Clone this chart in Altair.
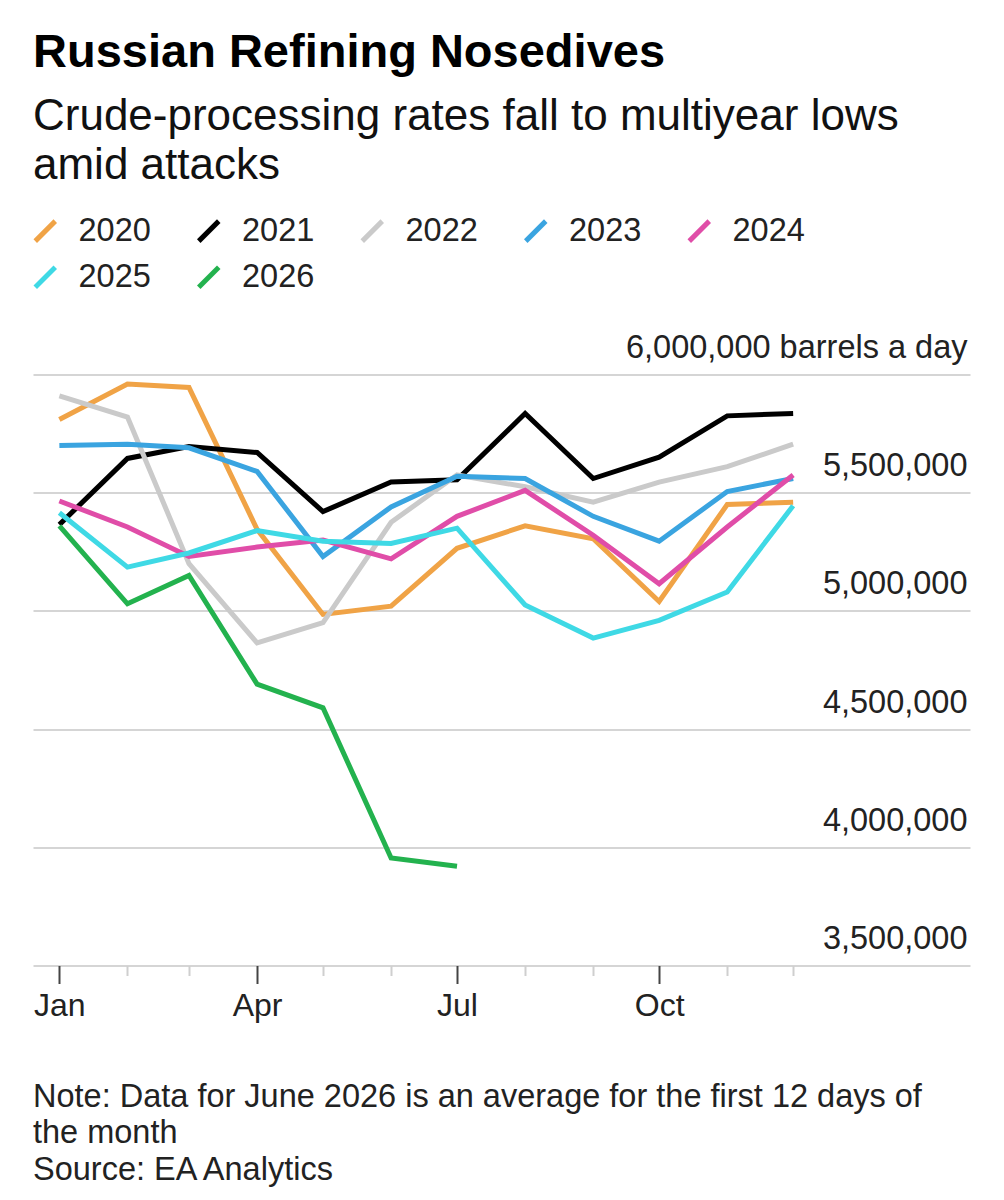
import altair as alt
import pandas as pd

# ---------------- data ----------------
MONTHS = ["Jan", "Feb", "Mar", "Apr", "May", "Jun", "Jul", "Aug", "Sep", "Oct", "Nov", "Dec"]
YEARS = ["2020", "2021", "2022", "2023", "2024", "2025", "2026"]
COLORS = ["#F0A346", "#000000", "#CACACA", "#3AA4E0", "#E04DA8", "#3FD9E5", "#23B24E"]

V2020 = [5810000, 5960000, 5945000, 5345000, 4985000, 5020000, 5265000, 5360000, 5305000, 5040000, 5450000, 5460000]
V2021 = [5365000, 5645000, 5695000, 5670000, 5420000, 5545000, 5555000, 5835000, 5560000, 5650000, 5825000, 5835000]
V2022 = [5910000, 5820000, 5200000, 4865000, 4950000, 5375000, 5575000, 5525000, 5460000, 5545000, 5610000, 5705000]
V2023 = [5700000, 5705000, 5690000, 5590000, 5230000, 5440000, 5570000, 5560000, 5400000, 5295000, 5505000, 5560000]
V2024 = [5465000, 5355000, 5230000, 5270000, 5300000, 5220000, 5400000, 5510000, 5320000, 5115000, 5355000, 5575000]
V2025 = [5415000, 5185000, 5245000, 5340000, 5295000, 5285000, 5350000, 5025000, 4885000, 4960000, 5080000, 5445000]
V2026 = [5360000, 5030000, 5150000, 4690000, 4590000, 3955000, 3920000]

SERIES = [V2020, V2021, V2022, V2023, V2024, V2025, V2026]

Y_TICKS = [3500000, 4000000, 4500000, 5000000, 5500000, 6000000]

TITLE = "Russian Refining Nosedives"
SUBTITLE = ["Crude-processing rates fall to multiyear lows", "amid attacks"]
NOTE_LINES = [
    "Note: Data for June 2026 is an average for the first 12 days of",
    "the month",
    "Source: EA Analytics",
]

FONT = "Liberation Sans"

rows = []
for yr, vals in zip(YEARS, SERIES):
    for i, v in enumerate(vals):
        rows.append({"year": yr, "date": f"2021-{i + 1:02d}-01", "month": MONTHS[i], "value": v})
df = pd.DataFrame(rows)

quarter_test = "utcmonth(datum.value) % 3 == 0"

x_axis = alt.Axis(
    values=[alt.DateTime(year=2021, month=m, date=1, utc=True) for m in range(1, 13)],
    labelExpr=f"{quarter_test} ? utcFormat(datum.value, '%b') : ''",
    domain=False,
    grid=False,
    tickColor={"condition": {"test": quarter_test, "value": "#444444"}, "value": "#cfcfcf"},
    tickSize={"condition": {"test": quarter_test, "value": 18}, "value": 10},
    tickWidth=2,
    labelFontSize=32,
    labelFont=FONT,
    labelColor="#222222",
    labelBaseline="alphabetic",
    labelPadding=31.5,
    labelOverlap=False,
    labelFlush=False,
)

y_axis = alt.Axis(
    orient="right",
    values=Y_TICKS,
    labelExpr="datum.value == 6000000 ? '6,000,000 barrels a day' : format(datum.value, ',')",
    domain=False,
    ticks=False,
    tickSize=0,
    grid=True,
    gridColor="#d5d5d5",
    gridWidth=2,
    labelAlign="right",
    labelBaseline="alphabetic",
    labelPadding=-3,
    labelOffset=-17,
    labelFontSize=32.5,
    labelFont=FONT,
    labelColor="#222222",
    labelLimit=600,
    labelOverlap=False,
    labelFlush=False,
)

legend = alt.Legend(
    title=None,
    orient="none",
    legendX=-4,
    legendY=-160,
    direction="horizontal",
    columns=5,
    symbolType="M-1,1L1,-1",
    symbolSize=400,
    symbolStrokeWidth=5,
    labelFontSize=32.5,
    labelFont=FONT,
    labelColor="#222222",
    labelOffset=17,
    columnPadding=37.5,
    rowPadding=5.5,
    padding=0,
)

lines = alt.Chart(df).mark_line(strokeWidth=5).encode(
    x=alt.X(
        "date:T",
        title=None,
        scale=alt.Scale(
            type="utc",
            domain=[
                alt.DateTime(year=2020, month=12, date=20, utc=True),
                alt.DateTime(year=2022, month=2, date=19, hours=12, utc=True),
            ],
        ),
        axis=x_axis,
    ),
    y=alt.Y(
        "value:Q",
        title=None,
        scale=alt.Scale(domain=[3500000, 6000000], nice=False, zero=False),
        axis=y_axis,
    ),
    color=alt.Color("year:N", scale=alt.Scale(domain=YEARS, range=COLORS), legend=legend),
)

note = alt.Chart(alt.Data(values=[{"k": 1}])).mark_text(
    align="left",
    baseline="alphabetic",
    fontSize=32.5,
    font=FONT,
    color="#222222",
    lineHeight=36.7,
).encode(
    x=alt.value(0),
    y=alt.value(732.2),
    text=alt.value(NOTE_LINES),
)

chart = (
    alt.layer(lines, note)
    .properties(
        width=937,
        height=591,
        autosize=alt.AutoSizeParams(type="none"),
        padding={"left": 33, "top": 374.5, "right": 34, "bottom": 234.5},
        background="white",
        title=alt.TitleParams(
            text=TITLE,
            subtitle=SUBTITLE,
            anchor="start",
            frame="group",
            font=FONT,
            fontSize=47,
            fontWeight="bold",
            color="#000000",
            subtitleFont=FONT,
            subtitleFontSize=44,
            subtitleColor="#111111",
            subtitleLineHeight=49,
            subtitlePadding=18,
            offset=26,
        ),
    )
    .configure_view(strokeWidth=0)
)

chart.save("out.html", embed_options={"renderer": "svg", "actions": False})
